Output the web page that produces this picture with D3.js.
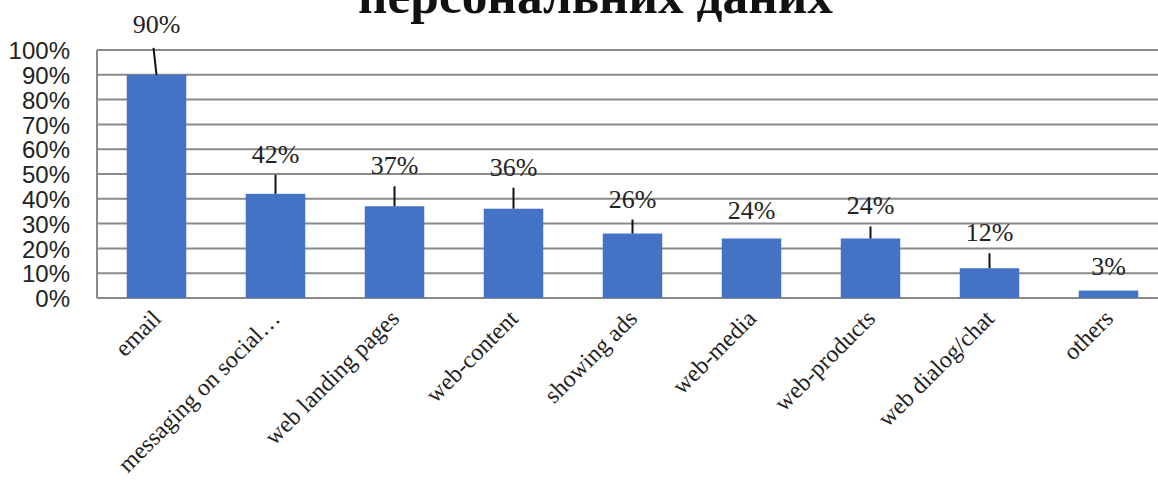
<!DOCTYPE html>
<html>
<head>
<meta charset="utf-8">
<script src="https://cdn.jsdelivr.net/npm/d3@7"></script>
<style>
  html, body { margin: 0; padding: 0; background: #fff; }
  svg { display: block; }
</style>
</head>
<body>
<svg id="chart" width="1158" height="498"></svg>
<script>
// ---- data ----
const categories = ["email", "messaging on social…", "web landing pages", "web-content",
  "showing ads", "web-media", "web-products", "web dialog/chat", "others"];
const values = [0.90, 0.42, 0.37, 0.36, 0.26, 0.24, 0.24, 0.12, 0.03];
const valueLabels = ["90%", "42%", "37%", "36%", "26%", "24%", "24%", "12%", "3%"];
const yTicks = [0, 0.1, 0.2, 0.3, 0.4, 0.5, 0.6, 0.7, 0.8, 0.9, 1.0];
const titleText = "персональних даних";

// ---- layout (pixels, not data) ----
const labelLift = [42, 31, 32, 33, 26, 19, 24, 27, 16];
const W = 1158, H = 498;
const plot = { left: 97, right: 1168, top: 50, bottom: 298 };
const SERIF = "'Liberation Serif', 'Times New Roman', Times, serif";
const SANS = "'Liberation Sans', Arial, Helvetica, sans-serif";

const svg = d3.select("#chart");

const x = d3.scaleBand().domain(categories).range([plot.left, plot.right]).paddingInner(0.5).paddingOuter(0.25);
const y = d3.scaleLinear().domain([0, 1]).range([plot.bottom, plot.top]);

// title (its upper part is cut off at the top edge, as in the source image)
svg.append("text")
  .attr("x", 358).attr("y", 13)
  .attr("textLength", 475)
  .attr("lengthAdjust", "spacingAndGlyphs")
  .style("font-family", SERIF)
  .style("font-weight", "bold")
  .style("font-size", "50px")
  .attr("fill", "#111")
  .text(titleText);

// gridlines
const gridColor = "#8a8a8a";
svg.append("g")
  .selectAll("line")
  .data(yTicks)
  .join("line")
  .attr("x1", plot.left).attr("x2", W)
  .attr("y1", d => y(d)).attr("y2", d => y(d))
  .attr("stroke", gridColor).attr("stroke-width", 2);

// left axis line
svg.append("line")
  .attr("x1", plot.left).attr("x2", plot.left)
  .attr("y1", y(1)).attr("y2", y(0))
  .attr("stroke", gridColor).attr("stroke-width", 2);

// y axis labels
const yAxis = d3.axisLeft(y).tickValues(yTicks).tickFormat(d3.format(".0%")).tickSize(0).tickPadding(0);
const gy = svg.append("g").attr("transform", `translate(${70},0)`).call(yAxis);
gy.select(".domain").remove();
gy.selectAll("text")
  .style("font-family", SANS)
  .style("font-size", "24px")
  .attr("fill", "#222")
  .attr("dy", "0.36em");

// bars
svg.append("g")
  .selectAll("rect")
  .data(values)
  .join("rect")
  .attr("x", (d, i) => x(categories[i]))
  .attr("width", x.bandwidth())
  .attr("y", d => y(d))
  .attr("height", d => y(0) - y(d))
  .attr("fill", "#4472c4");

// value labels + leader lines
const lbl = svg.append("g");
values.forEach((v, i) => {
  const cx = x(categories[i]) + x.bandwidth() / 2;
  const top = y(v);
  const base = top - labelLift[i];
  lbl.append("text")
    .attr("x", cx).attr("y", base)
    .attr("text-anchor", "middle")
    .style("font-family", SERIF)
    .style("font-size", "26px")
    .attr("fill", "#222")
    .text(valueLabels[i]);
  if (labelLift[i] >= 22) {
    lbl.append("line")
      .attr("x1", i === 0 ? cx - 3 : cx).attr("x2", cx)
      .attr("y1", base + (i === 0 ? 15 : 12)).attr("y2", top)
      .attr("stroke", "#111").attr("stroke-width", 2);
  }
});

// x axis labels
const xAxis = d3.axisBottom(x).tickSize(0).tickPadding(0);
const gx = svg.append("g").attr("transform", `translate(0,${plot.bottom})`).call(xAxis);
gx.select(".domain").remove();
gx.selectAll("text")
  .style("font-family", SERIF)
  .style("font-size", "24px")
  .attr("fill", "#222")
  .attr("text-anchor", "end")
  .attr("dy", null)
  .attr("y", null)
  .attr("transform", "translate(6,22) rotate(-45)");
</script>
</body>
</html>
